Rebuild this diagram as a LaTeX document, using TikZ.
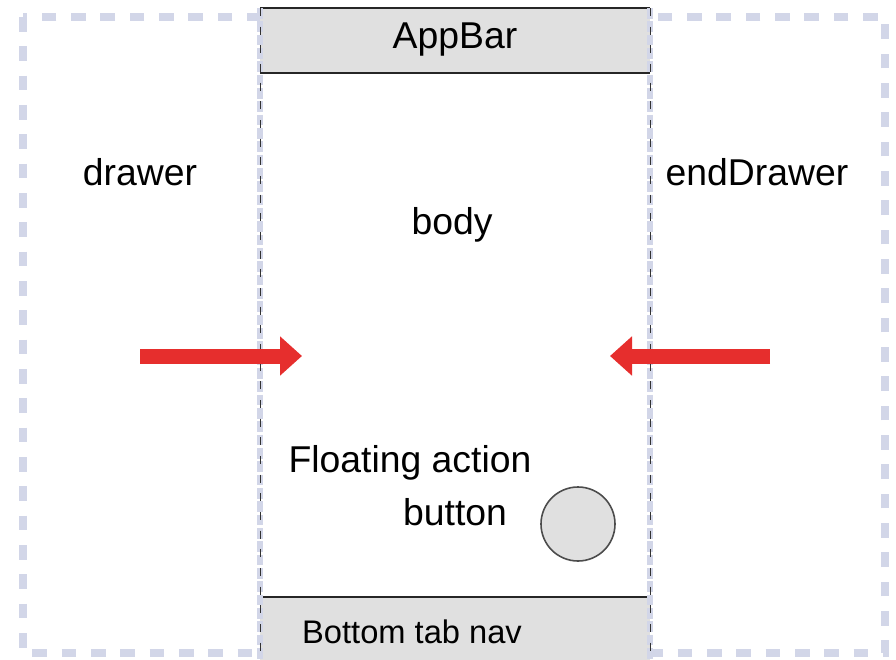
\documentclass[tikz,border=0pt]{standalone}
\usepackage{fontspec}
\setmainfont{Liberation Sans}
\usetikzlibrary{arrows.meta}
\definecolor{panelblue}{HTML}{D2D6E8}
\definecolor{bargray}{HTML}{E0E0E0}
\definecolor{arrowred}{HTML}{E62E2D}
\tikzset{
  label text/.style={inner sep=0.75pt,font=\fontsize{28}{32}\selectfont},
  side edge/.style={draw=panelblue,line width=4pt,dash pattern=on 8pt off 2pt},
  phone edge/.style={draw=black!80,line width=0.7pt,dash pattern=on 6pt off 8pt},
  slide arrow/.style={draw=arrowred,line width=11.25pt,-{Triangle[length=16.5pt,width=28.5pt]}}
}
\begin{document}
\begin{tikzpicture}[x=0.75pt,y=0.75pt,yscale=-1,xscale=1]
\path[use as bounding box] (0,0) rectangle (896,660);

%Shape: Rectangle (drawer area)
\draw[draw=panelblue,line width=5.5pt,dash pattern=on 11pt off 11pt] (23,17) rectangle (885,653);

%Shape: Rectangle (phone body)
\fill[white] (260,8) rectangle (650,660);
%Shape: Rectangle (AppBar)
\fill[bargray] (260,8) rectangle (650,73);
\draw[line width=1.5pt,black!85] (260,8) -- (650,8);
\draw[line width=1.5pt,black!85] (260,73) -- (650,73);
%Shape: Rectangle (Bottom tab nav)
\fill[bargray] (260,597) rectangle (650,660);
\draw[line width=1.5pt,black!85] (260,597) -- (650,597);

%Straight Lines (panel edges)
\draw[side edge] (260,8) -- (260,660);
\draw[side edge] (650,8) -- (650,660);
\draw[phone edge] (260,8) -- (260,660);
\draw[phone edge] (650,8) -- (650,660);

%Shape: Circle (FAB)
\draw[fill=bargray,draw=black!70,line width=1.2pt] (578,524) circle (37);

% Text Node
\node[label text] (appbar) at (455,40) {AppBar};
% Text Node
\node[label text] (drawer) at (140,172) {drawer};
% Text Node
\node[label text] (enddrawer) at (757,172) {endDrawer};
% Text Node
\node[label text] (body) at (452,225) {body};
% Text Node
\node[label text] (fabtop) at (410,463) {Floating action};
% Text Node
\node[label text] (fabbottom) at (455,512) {button};
% Text Node
\node[label text,font=\fontsize{24.5}{30}\selectfont] (bottomnav) at (412,632) {Bottom tab nav};

%Arrows
\coordinate (drawerstart) at (140,356);
\coordinate (drawerend) at (302,356);
\coordinate (enddrawerstart) at (770,356);
\coordinate (enddrawerend) at (610,356);
\draw[slide arrow] (drawerstart) -- (drawerend);
\draw[slide arrow] (enddrawerstart) -- (enddrawerend);

\end{tikzpicture}
\end{document}
